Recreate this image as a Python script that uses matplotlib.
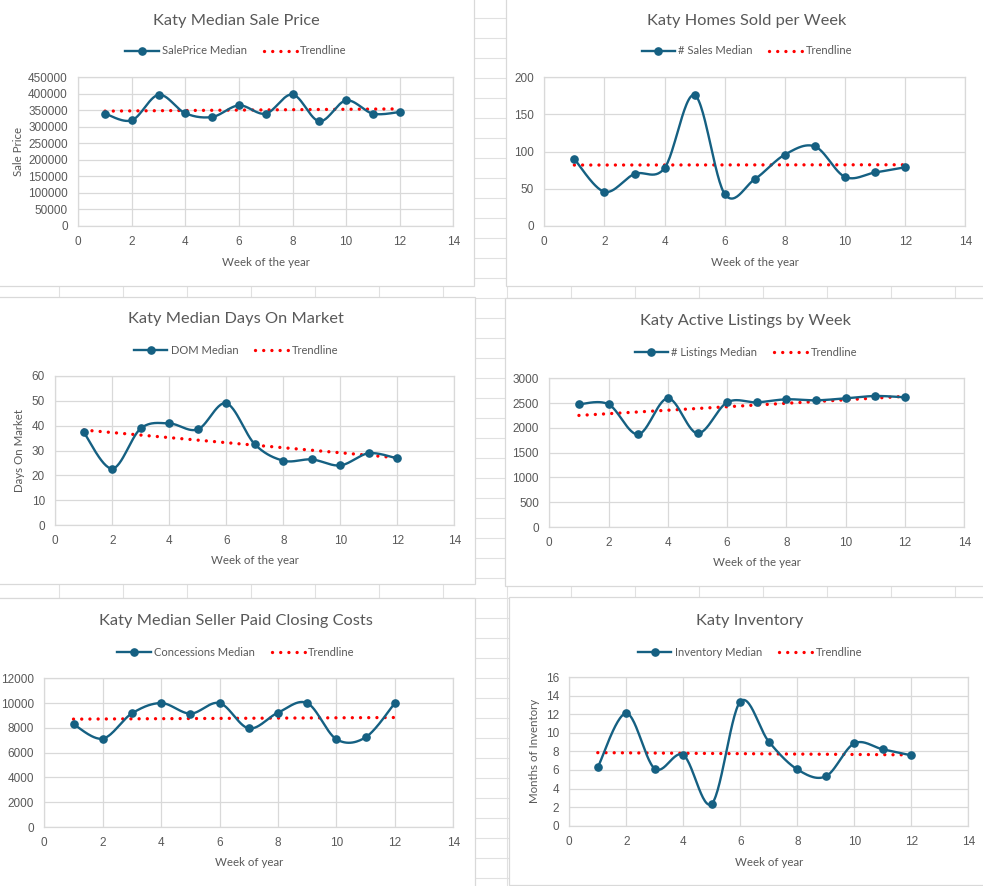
import matplotlib
matplotlib.use("Agg")
import matplotlib.pyplot as plt
import numpy as np
from matplotlib.patches import Rectangle
from matplotlib.lines import Line2D

# data
weeks = [1, 2, 3, 4, 5, 6, 7, 8, 9, 10, 11, 12]
sale_price = [340000, 320000, 397000, 341000, 330000, 365000, 340000, 398000, 317000, 380000, 340000, 345000]
sales_count = [90, 46, 70, 78, 176, 43, 63, 96, 107, 66, 72, 79]
dom = [37.3, 22.7, 38.9, 40.9, 38.5, 49.0, 32.5, 25.9, 26.4, 24.0, 28.9, 26.8]
listings = [2475, 2475, 1870, 2596, 1890, 2515, 2515, 2576, 2556, 2596, 2643, 2616]
concessions = [8290, 7130, 9170, 10000, 9150, 10000, 7960, 9230, 10000, 7080, 7240, 10000]
inventory = [6.28, 12.09, 6.13, 7.6, 2.37, 13.35, 9.04, 6.06, 5.31, 8.86, 8.22, 7.57]

W, H = 983, 886
BLUE = "#156082"
GREY = "#595959"
GRID = "#d9d9d9"

fig = plt.figure(figsize=(W / 100, H / 100), dpi=100)

# spreadsheet behind the charts
bg = fig.add_axes([0, 0, 1, 1])
bg.set_xlim(0, W)
bg.set_ylim(H, 0)
bg.axis("off")
for x in np.arange(-5.5, W, 64):
    bg.plot([x, x], [0, H], color="#e1e1e1", lw=0.8, zorder=1)
for y in np.arange(18, H, 20):
    bg.plot([0, W], [y, y], color="#e1e1e1", lw=0.8, zorder=1)

# chart boxes (x0, y0, x1, y1) in pixels
boxes = [(-2, -2, 474, 286), (506, -2, 985, 286),
         (-2, 297, 475, 584), (505, 298, 985, 586),
         (-2, 598, 475, 888), (509, 597, 985, 885)]
for x0, y0, x1, y1 in boxes:
    bg.add_patch(Rectangle((x0, y0), x1 - x0, y1 - y0, fc="white", ec=GRID, lw=0.9, zorder=2))


def fx(x):
    return x / W


def fy(y):
    return 1 - y / H


def smooth(x, y, n=30):
    # excel style smoothed line (catmull-rom as bezier)
    x = np.asarray(x, float)
    y = np.asarray(y, float)
    P = np.column_stack([x, y])
    P = np.vstack([P[0], P, P[-1]])
    out = []
    t = np.linspace(0, 1, n)[:, None]
    for i in range(1, len(P) - 2):
        p0, p1, p2, p3 = P[i - 1], P[i], P[i + 1], P[i + 2]
        c1 = p1 + (p2 - p0) / 6
        c2 = p2 - (p3 - p1) / 6
        b = (1 - t) ** 3 * p1 + 3 * (1 - t) ** 2 * t * c1 + 3 * (1 - t) * t ** 2 * c2 + t ** 3 * p2
        out.append(b if i == 1 else b[1:])
    out = np.vstack(out)
    return out[:, 0], out[:, 1]


dot_style = dict(color="red", lw=2.4, linestyle=(0, (0.01, 2.45)), dash_capstyle="round")


def chart(plot, title, title_y, leg_x, leg_y, series, name, ymax, ystep, xlabel, xlabel_y, ylabel=None, ylabel_x=None):
    L, T, R, B = plot
    ax = fig.add_axes([fx(L), fy(B), fx(R - L), (B - T) / H])
    ax.set_xlim(0, 14)
    ax.set_ylim(0, ymax)
    ax.set_xticks(range(0, 15, 2))
    ax.set_yticks(np.arange(0, ymax + ystep / 2, ystep))
    ax.grid(True, color=GRID, lw=0.9)
    ax.set_axisbelow(True)
    for s in ax.spines.values():
        s.set_color(GRID)
        s.set_linewidth(0.9)
    ax.tick_params(length=0, labelsize=8.5, labelcolor=GREY)
    ax.tick_params(axis="x", pad=7.5)
    ax.tick_params(axis="y", pad=7.5)
    for lab in ax.get_xticklabels() + ax.get_yticklabels():
        lab.set_fontfamily("Liberation Sans")

    coef = np.polyfit(weeks, series, 1)
    ends = [weeks[0], weeks[-1]]
    ax.plot(ends, np.polyval(coef, ends), zorder=3, **dot_style)
    sx, sy = smooth(weeks, series)
    ax.plot(sx, sy, color=BLUE, lw=1.7, zorder=4)
    ax.plot(weeks, series, "o", color=BLUE, ms=5.2, zorder=5)

    fig.text(fx(leg_x), fy(title_y), title, ha="center", va="center", fontsize=11.8, color=GREY, family="Lato")
    handles = [Line2D([], [], color=BLUE, lw=1.7, marker="o", ms=5.2),
               Line2D([], [], **dot_style)]
    fig.legend(handles, [name, "Trendline"], loc="center", bbox_to_anchor=(fx(leg_x), fy(leg_y)),
               ncol=2, frameon=False, handlelength=3.0, handletextpad=0.3, columnspacing=1.5,
               prop={"family": "Lato", "size": 8}, labelcolor=GREY, numpoints=1)
    fig.text(fx((L + R) / 2), fy(xlabel_y), xlabel, ha="center", va="center", fontsize=8.3, color=GREY, family="Lato")
    if ylabel:
        fig.text(fx(ylabel_x), fy((T + B) / 2), ylabel, ha="center", va="center", rotation=90,
                 fontsize=8.3, color=GREY, family="Lato")
    return ax


chart((78.3, 77.3, 453.3, 226), "Katy Median Sale Price", 21, 236, 51, sale_price, "SalePrice Median",
      450000, 50000, "Week of the year", 262, "Sale Price", 19)
chart((544.3, 77.3, 965.3, 226), "Katy Homes Sold per Week", 21, 747, 51, sales_count, "# Sales Median",
      200, 50, "Week of the year", 262)
chart((55.3, 376, 454.3, 525), "Katy Median Days On Market", 319.5, 236, 350.5, dom, "DOM Median",
      60, 10, "Week of the year", 561, "Days On Market", 20)
chart((549.3, 378.3, 964.3, 527), "Katy Active Listings by Week", 321, 746, 352.5, listings, "# Listings Median",
      3000, 500, "Week of the year", 563)
chart((44.3, 678.3, 453.3, 827), "Katy Median Seller Paid Closing Costs", 621.5, 236, 652.5, concessions,
      "Concessions Median", 12000, 2000, "Week of year", 863)
chart((569.3, 677, 968.3, 825.7), "Katy Inventory", 621, 750, 652, inventory, "Inventory Median",
      16, 2, "Week of year", 862, "Months of Inventory", 534.3)

fig.savefig("out.png", dpi=100)
